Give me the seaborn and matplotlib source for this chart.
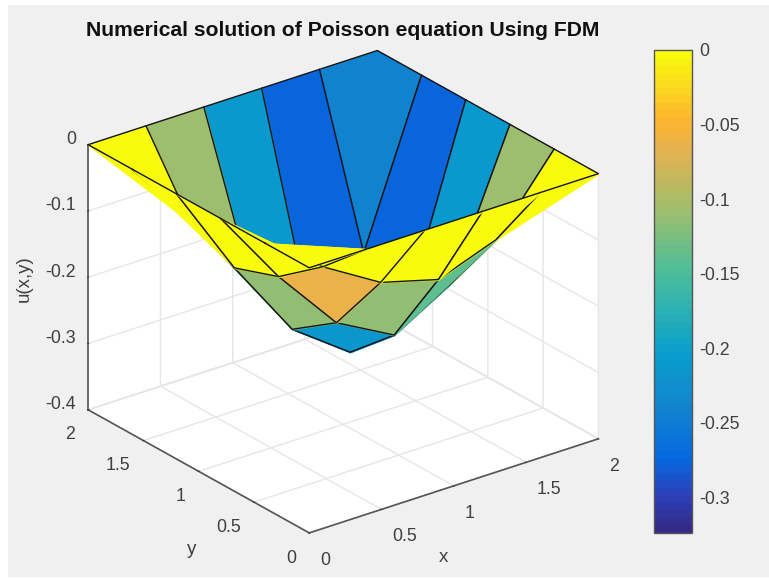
import numpy as np
import matplotlib
matplotlib.use('Agg')
import matplotlib.pyplot as plt
from matplotlib.colors import Normalize, to_hex
from matplotlib.cm import ScalarMappable
from matplotlib.patches import Rectangle
from mpl_toolkits.mplot3d.art3d import Poly3DCollection
import seaborn as sns

# =====================================================
# Data
# =====================================================
x_nodes = [0, 0.4, 0.8, 1.2, 1.6, 2]
y_nodes = [0, 0.4, 0.8, 1.2, 1.6, 2]
# rows follow x_nodes, columns follow y_nodes
u_x00 = [0, 0, 0, 0, 0, 0]
u_x04 = [0, -0.064, -0.116, -0.140, -0.108, 0]
u_x08 = [0, -0.116, -0.214, -0.261, -0.210, 0]
u_x12 = [0, -0.140, -0.261, -0.324, -0.278, 0]
u_x16 = [0, -0.108, -0.210, -0.278, -0.240, 0]
u_x20 = [0, 0, 0, 0, 0, 0]

x_ticks = [0, 0.5, 1, 1.5, 2]
y_ticks = [0, 0.5, 1, 1.5, 2]
z_ticks = [-0.4, -0.3, -0.2, -0.1, 0]
z_tick_labels = ['-0.4', '-0.3', '-0.2', '-0.1', '0']
tick_labels = ['0', '0.5', '1', '1.5', '2']
cbar_ticks = [-0.3, -0.25, -0.2, -0.15, -0.1, -0.05, 0]
cbar_labels = ['-0.3', '-0.25', '-0.2', '-0.15', '-0.1', '-0.05', '0']

parula_like = ['#352a87', '#2c3fb8', '#0569e0', '#1285cd', '#089ece', '#2fb3b0',
               '#50be96', '#9bbe6e', '#e8b250', '#fdb52f', '#f9fb0e']
parula_pos = [0, 0.07, 0.15, 0.26, 0.37, 0.47, 0.55, 0.665, 0.80, 0.86, 1]

ELEV, AZIM = 25.2, -127.4

# =====================================================
# Figure
# =====================================================
W, H = 769, 578
sns.set_theme(style='white')
plt.rcParams['font.family'] = ['Liberation Sans', 'DejaVu Sans']

fig = plt.figure(figsize=(W / 100, H / 100), dpi=100, facecolor='white')
fig.add_artist(Rectangle((8 / W, 1 / H), (W - 8) / W, (H - 6) / H, transform=fig.transFigure,
                         facecolor='#f0f0f0', edgecolor='none', zorder=-10))

ax = fig.add_axes([48 / W, -9 / H, 575 / W, 575 / H], projection='3d', proj_type='ortho',
                  computed_zorder=False)
ax.patch.set_alpha(0)
ax.view_init(elev=ELEV, azim=AZIM)
ax.set_box_aspect((1, 1, 0.805))

# colormap: anchors are placed by position, 64 levels like the bar in the picture
grid = np.linspace(0, 1, 64)
rgb = sns.color_palette(parula_like, len(parula_like))
levels = [to_hex([np.interp(g, parula_pos, [c[k] for c in rgb]) for k in range(3)]) for g in grid]
cmap = sns.blend_palette(levels, n_colors=64, as_cmap=True).resampled(64)

U = np.array([u_x00, u_x04, u_x08, u_x12, u_x16, u_x20])
xs = np.array(x_nodes)
ys = np.array(y_nodes)
norm = Normalize(vmin=-0.324, vmax=0)

# each cell is two triangles split on the (i, j+1)-(i+1, j) diagonal, the diagonal has no stroke.
# painter's order, far triangles first
az, el = np.radians(AZIM), np.radians(ELEV)
view = np.array([np.cos(el) * np.cos(az), np.cos(el) * np.sin(az), np.sin(el)])
box = np.array([1 / 2, 1 / 2, 0.805 / 0.4])


def pt(i, j):
    return np.array([xs[i], ys[j], U[i, j]])


triangles = []
for i in range(len(xs) - 1):
    for j in range(len(ys) - 1):
        face = cmap(norm(U[i, j]))
        triangles.append(([(i, j + 1), (i, j), (i + 1, j)], face))
        triangles.append(([(i, j + 1), (i + 1, j + 1), (i + 1, j)], face))


def depth(item):
    return np.mean([np.dot(pt(*n) * box, view) for n in item[0]])


triangles.sort(key=depth)
for n, (nodes, face) in enumerate(triangles):
    corners = np.array([pt(*p) for p in nodes])
    ax.add_collection3d(Poly3DCollection([corners], facecolors=[face], edgecolors=[face],
                                         linewidths=0.8, zorder=10 + n))
    ax.plot(corners[:, 0], corners[:, 1], corners[:, 2], color='#151515', linewidth=1.0,
            solid_capstyle='round', zorder=10.5 + n)

ax.set_xlim(0, 2)
ax.set_ylim(0, 2)
ax.set_zlim(-0.4, 0)
ax.set_xticks(x_ticks, tick_labels)
ax.set_yticks(y_ticks, tick_labels)
ax.set_zticks(z_ticks, z_tick_labels)

for axis in (ax.xaxis, ax.yaxis, ax.zaxis):
    axis.set_pane_color((1, 1, 1, 1))
    axis.pane.set_edgecolor('#e6e6e6')
    axis.line.set_color('#555555')
    axis.line.set_linewidth(1.2)
    axis._axinfo['grid'].update(color='#e6e6e6', linewidth=1.0)
    axis._axinfo['tick'].update(inward_factor=0.03, outward_factor=0.03, linewidth={True: 0.8, False: 0.8})
ax.grid(True)
ax.tick_params(colors='#404040', labelsize=12.8)
ax.tick_params(axis='x', pad=2.5)
ax.tick_params(axis='y', pad=2)
ax.tick_params(axis='z', pad=-3)
for lab in ax.get_xticklabels():
    lab.set_ha('left')
for lab in ax.get_yticklabels():
    lab.set_ha('right')
for lab in ax.get_zticklabels():
    lab.set_ha('right')
    lab.set_va('baseline')

fig.text(443 / W, 1 - 558 / H, 'x', ha='center', va='center', fontsize=13.5, color='#404040')
fig.text(192 / W, 1 - 550 / H, 'y', ha='center', va='center', fontsize=13.5, color='#404040')
fig.text(24 / W, 1 - 279 / H, 'u(x,y)', ha='center', va='center', rotation=90, fontsize=13.5,
         color='#404040')
fig.text(343 / W, 1 - 31 / H, 'Numerical solution of Poisson equation Using FDM',
         ha='center', va='center', fontsize=15.2, fontweight='bold', color='#111111')

# =====================================================
# Colorbar
# =====================================================
cax = fig.add_axes([654 / W, 1 - 533 / H, 38 / W, 483 / H])
cbar = fig.colorbar(ScalarMappable(norm=norm, cmap=cmap), cax=cax)
cbar.set_ticks(cbar_ticks, labels=cbar_labels)
cax.tick_params(direction='in', length=4, width=0.8, color='#404040', labelcolor='#404040',
                labelsize=12.8, right=True, left=False, pad=5)
cbar.outline.set_edgecolor('#555555')
cbar.outline.set_linewidth(1.0)

plt.savefig('out.png', dpi=100)
